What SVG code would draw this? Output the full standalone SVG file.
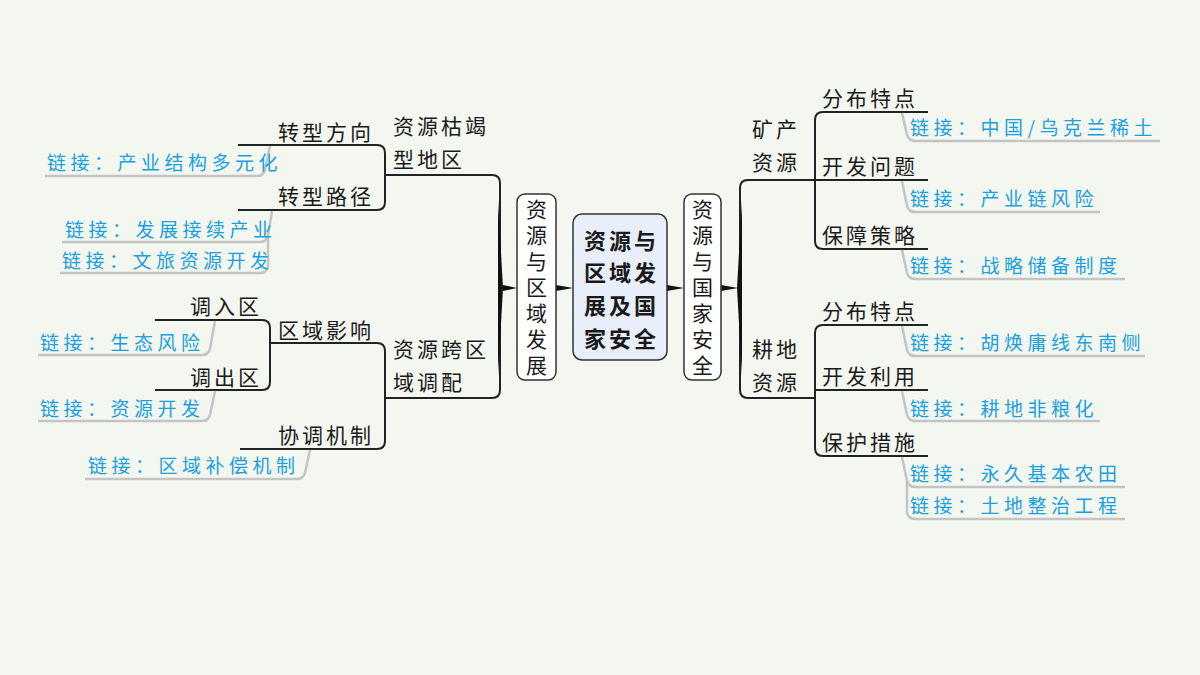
<svg xmlns="http://www.w3.org/2000/svg" width="1200" height="675" viewBox="0 0 1200 675">
<style>
.t{font-family:"Noto Sans CJK SC","Liberation Sans",sans-serif;font-size:21px;fill:#1a1a1a;letter-spacing:3px}
.l{font-family:"Noto Sans CJK SC","Liberation Sans",sans-serif;font-size:19px;fill:#1aa0e0;letter-spacing:4.5px}
.c{font-family:"Noto Sans CJK SC","Liberation Sans",sans-serif;font-size:22px;fill:#1a1a1a;text-anchor:middle}
.v{font-family:"Noto Sans CJK SC","Liberation Sans",sans-serif;font-size:21px;fill:#1a1a1a;writing-mode:vertical-rl;text-orientation:upright;letter-spacing:5px}
.k{fill:none;stroke:#222;stroke-width:2}
.g{fill:none;stroke:#c4c4c4;stroke-width:2.5}
.b{fill:#fff;stroke:#333;stroke-width:1.5}
</style>
<rect width="1200" height="675" fill="#f3f7f0"/>
<g id="connectors">
<path class="k" d="M385 175 H492 Q500 175 500 183 V390 Q500 398 492 398 H385"/>
<path d="M498 200 L503 288 L498 376 Z" fill="#111"/>
<path d="M503 285 L517 288 L503 291 Z" fill="#111"/>
<path d="M556 285 L573 288 L556 291 Z" fill="#111"/>
<path d="M667 285 L684 288 L667 291 Z" fill="#111"/>
<path d="M721 285 L738 288 L721 291 Z" fill="#111"/>
<path class="k" d="M815 180 H748 Q740 180 740 188 V390 Q740 398 748 398 H815"/>
<path d="M742 200 L737 288 L742 376 Z" fill="#111"/>
<path class="k" d="M238 145 H377 Q385 145 385 153 V202 Q385 210 377 210 H238"/>
<path class="k" d="M270 343 H377 Q385 343 385 351 V441 Q385 449 377 449 H240"/>
<path class="k" d="M155 320 H262 Q270 320 270 328 V382 Q270 390 262 390 H155"/>
<path class="k" d="M928 112 H823 Q815 112 815 120 V241 Q815 249 823 249 H928"/>
<path class="k" d="M815 180 H928"/>
<path class="k" d="M928 325 H823 Q815 325 815 333 V448 Q815 456 823 456 H928"/>
<path class="k" d="M815 390 H928"/>
<path class="g" d="M270 146 L265 170 Q263 176 257 176 H45"/>
<path class="g" d="M272 211 L268 236 Q266 242 260 242 H62"/>
<path class="g" d="M268 236 L268 267 Q266 273 260 273 H60"/>
<path class="g" d="M215 321 L210 349 Q208 355 202 355 H38"/>
<path class="g" d="M215 391 L210 415 Q208 421 202 421 H38"/>
<path class="g" d="M310 450 L305 473 Q303 479 297 479 H85"/>
<path class="g" d="M902 113 L907 135 Q909 141 915 141 H1160"/>
<path class="g" d="M902 181 L907 206 Q909 212 915 212 H1100"/>
<path class="g" d="M902 250 L907 273 Q909 279 915 279 H1125"/>
<path class="g" d="M902 326 L907 350 Q909 356 915 356 H1145"/>
<path class="g" d="M902 391 L907 415 Q909 421 915 421 H1100"/>
<path class="g" d="M902 457 L907 481 Q909 487 915 487 H1125"/>
<path class="g" d="M907 481 L907 513 Q909 519 915 519 H1125"/>
</g>
<g id="center">
<rect x="573" y="214" width="94" height="146" rx="9" fill="#e8eefa" stroke="#333" stroke-width="1.5"/>
<text class="c" font-weight="bold" letter-spacing="3" x="621.5" y="249">资源与</text>
<text class="c" font-weight="bold" letter-spacing="3" x="621.5" y="281">区域发</text>
<text class="c" font-weight="bold" letter-spacing="3" x="621.5" y="314">展及国</text>
<text class="c" font-weight="bold" letter-spacing="3" x="621.5" y="347">家安全</text>
</g>
<g id="left-main">
<rect class="b" x="517" y="194" width="39" height="186" rx="8"/>
<text class="v" x="536.5" y="199">资源与区域发展</text>
</g>
<g id="right-main">
<rect class="b" x="684" y="194" width="37" height="186" rx="8"/>
<text class="v" x="702.5" y="199">资源与国家安全</text>
</g>
<g id="n-kujie"><text class="t" x="393" y="134">资源枯竭</text><text class="t" x="393" y="167">型地区</text></g>
<g id="n-zxfx"><text class="t" x="278" y="140">转型方向</text></g>
<g id="n-zxlj"><text class="t" x="278" y="204">转型路径</text></g>
<g id="n-kuaqu"><text class="t" x="393" y="357">资源跨区</text><text class="t" x="393" y="390">域调配</text></g>
<g id="n-qyyx"><text class="t" x="278" y="338">区域影响</text></g>
<g id="n-xtjz"><text class="t" x="278" y="443">协调机制</text></g>
<g id="n-drq"><text class="t" x="190" y="314">调入区</text></g>
<g id="n-dcq"><text class="t" x="190" y="385">调出区</text></g>
<g id="n-kc"><text class="t" x="752" y="137">矿产</text><text class="t" x="752" y="170">资源</text></g>
<g id="n-gd"><text class="t" x="752" y="357">耕地</text><text class="t" x="752" y="390">资源</text></g>
<g id="n-r1"><text class="t" x="822" y="106">分布特点</text></g>
<g id="n-r2"><text class="t" x="822" y="174">开发问题</text></g>
<g id="n-r3"><text class="t" x="822" y="243">保障策略</text></g>
<g id="n-r4"><text class="t" x="822" y="319">分布特点</text></g>
<g id="n-r5"><text class="t" x="822" y="384">开发利用</text></g>
<g id="n-r6"><text class="t" x="822" y="450">保护措施</text></g>
<g id="links">
<text class="l" x="47" y="170">链接：产业结构多元化</text>
<text class="l" x="65" y="237">链接：发展接续产业</text>
<text class="l" x="62" y="268">链接：文旅资源开发</text>
<text class="l" x="40" y="350">链接：生态风险</text>
<text class="l" x="40" y="416">链接：资源开发</text>
<text class="l" x="88" y="473">链接：区域补偿机制</text>
<text class="l" x="910" y="135">链接：中国/乌克兰稀土</text>
<text class="l" x="910" y="206">链接：产业链风险</text>
<text class="l" x="910" y="273">链接：战略储备制度</text>
<text class="l" x="910" y="350">链接：胡焕庸线东南侧</text>
<text class="l" x="910" y="416">链接：耕地非粮化</text>
<text class="l" x="910" y="481">链接：永久基本农田</text>
<text class="l" x="910" y="513">链接：土地整治工程</text>
</g>
</svg>
